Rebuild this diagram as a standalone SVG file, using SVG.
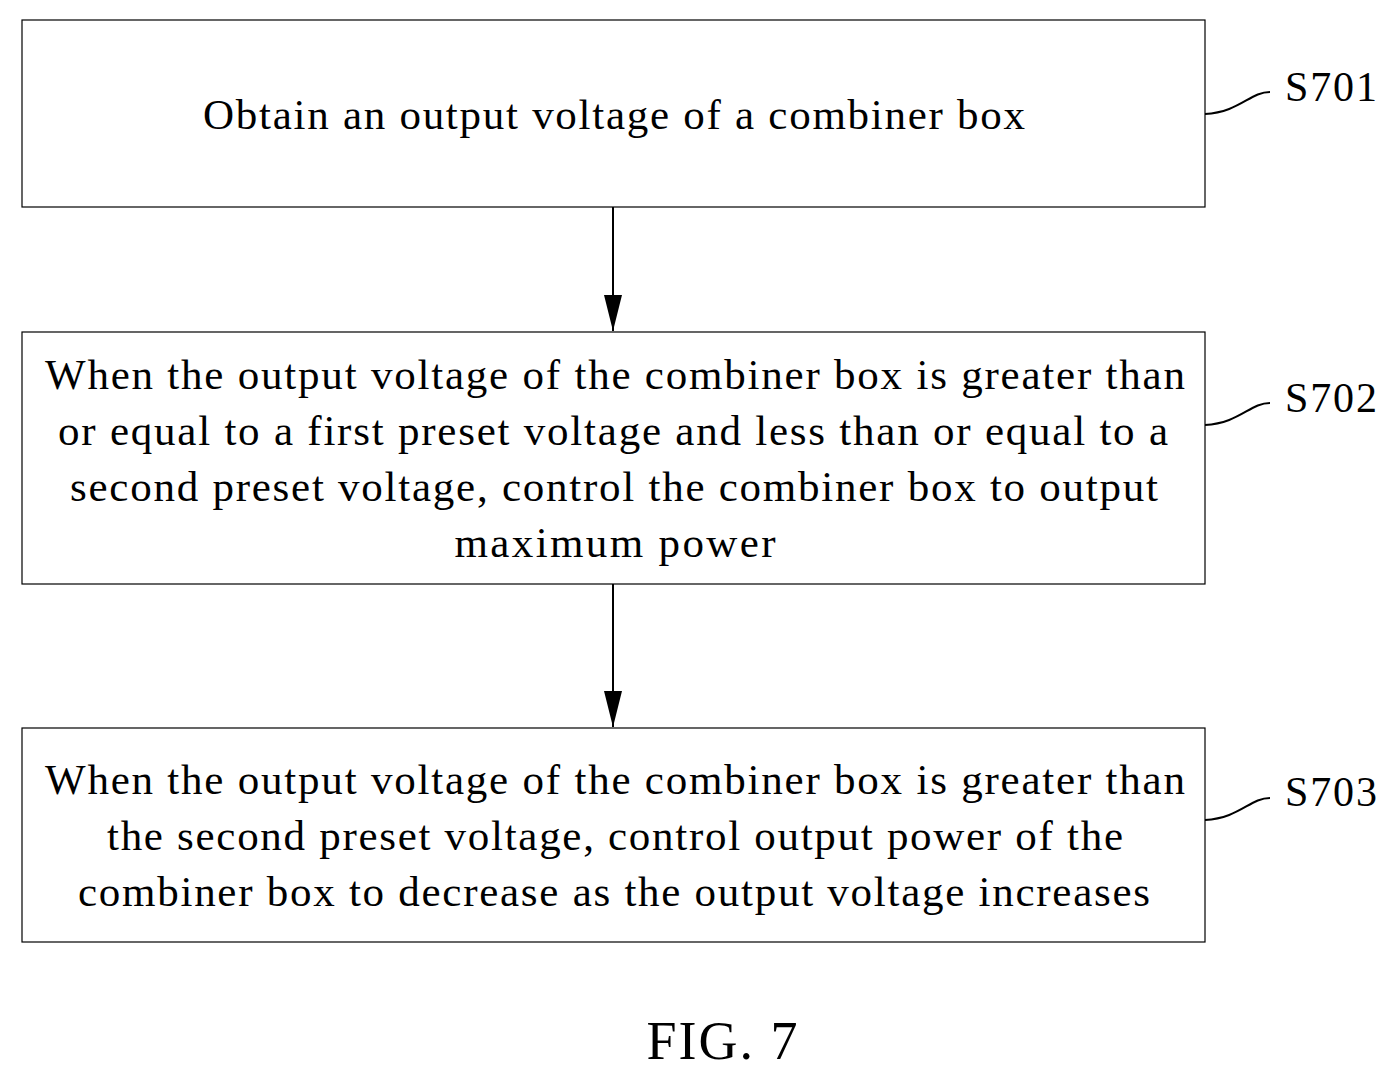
<svg xmlns="http://www.w3.org/2000/svg" width="1398" height="1080" viewBox="0 0 1398 1080">
<style>
.box{fill:#fff;stroke:#000;stroke-width:1.2}
.t{font-family:"Liberation Serif",serif;font-size:43px;fill:#000;text-anchor:middle}
.lbl{font-family:"Liberation Serif",serif;font-size:42px;fill:#000}
.ln{fill:none;stroke:#000;stroke-width:2}
</style>
<defs>
<marker id="a2" markerWidth="18" markerHeight="36" refX="9" refY="36" orient="0" markerUnits="userSpaceOnUse"><path d="M0,0 L18,0 L9,36z" fill="#000"/></marker></defs>
<rect width="1398" height="1080" fill="#fff"/>
<g id="n1"><rect class="box" x="22" y="20" width="1183" height="187"/><text class="t" x="614" y="129" textLength="822" lengthAdjust="spacing">Obtain an output voltage of a combiner box</text></g>
<g id="n2"><rect class="box" x="22" y="332" width="1183" height="252"/>
<text class="t" x="615" y="389" textLength="1140" lengthAdjust="spacing">When the output voltage of the combiner box is greater than</text>
<text class="t" x="613" y="445" textLength="1110" lengthAdjust="spacing">or equal to a first preset voltage and less than or equal to a</text>
<text class="t" x="614" y="501" textLength="1088" lengthAdjust="spacing">second preset voltage, control the combiner box to output</text>
<text class="t" x="615" y="557" textLength="321" lengthAdjust="spacing">maximum power</text></g>
<g id="n3"><rect class="box" x="22" y="728" width="1183" height="214"/>
<text class="t" x="615" y="794" textLength="1140" lengthAdjust="spacing">When the output voltage of the combiner box is greater than</text>
<text class="t" x="615" y="850" textLength="1016" lengthAdjust="spacing">the second preset voltage, control output power of the</text>
<text class="t" x="614" y="906" textLength="1072" lengthAdjust="spacing">combiner box to decrease as the output voltage increases</text></g>
<g id="connectors">
<line class="ln" x1="613" y1="207" x2="613" y2="331" marker-end="url(#a2)"/>
<line class="ln" x1="613" y1="584" x2="613" y2="727" marker-end="url(#a2)"/>
<path class="ln" d="M1205,114 C1240,112 1250,92 1270,92"/>
<path class="ln" d="M1205,425 C1240,423 1250,403 1270,403"/>
<path class="ln" d="M1205,820 C1240,818 1250,798 1270,798"/>
</g>
<text class="lbl" x="1285" y="101" textLength="92" lengthAdjust="spacing">S701</text>
<text class="lbl" x="1285" y="412" textLength="92" lengthAdjust="spacing">S702</text>
<text class="lbl" x="1285" y="806" textLength="92" lengthAdjust="spacing">S703</text>
<text class="t" style="font-size:54px" x="722" y="1059" textLength="151" lengthAdjust="spacing">FIG. 7</text>
</svg>
